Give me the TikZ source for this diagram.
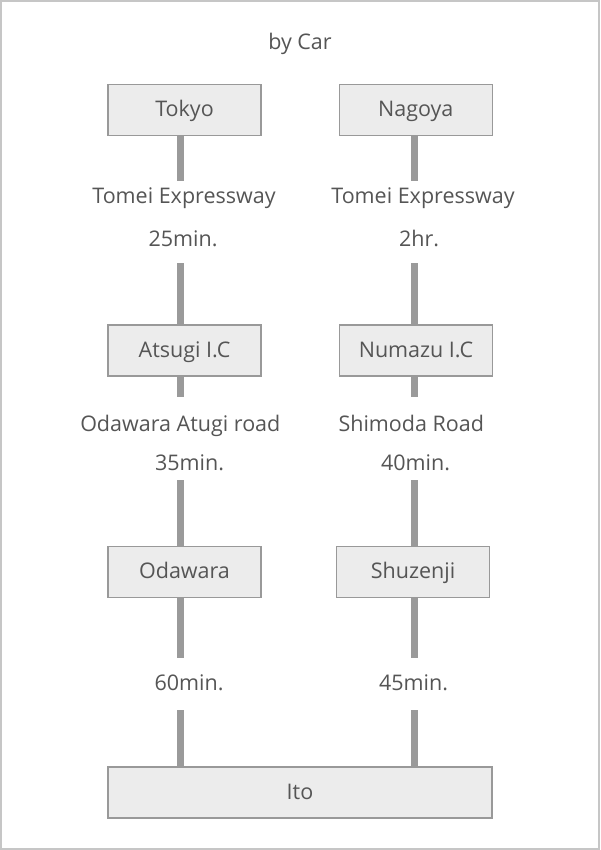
\documentclass[tikz,border=0pt]{standalone}
\usepackage{fontspec}
\setmainfont{Open Sans}
\definecolor{txt}{HTML}{555555}
\definecolor{boxfill}{HTML}{ECECEC}
\definecolor{boxline}{HTML}{999999}
\definecolor{conn}{HTML}{9A9A9A}
\definecolor{frame}{HTML}{C6C6C6}
\begin{document}
\begin{tikzpicture}[x=1pt,y=-1pt,
  font=\fontsize{21.5}{25}\selectfont, text=txt,
  place/.style={draw=boxline, fill=boxfill, line width=1.3pt, inner sep=0pt,
    minimum width=153pt, minimum height=51pt, text height=16pt, text depth=3pt},
  lbl/.style={anchor=base, inner sep=0pt},
  road/.style={draw=conn, line width=6.5pt}]
\useasboundingbox (0,0) rectangle (600,850);
\draw[frame, line width=2.2pt] (1.1,1.1) rectangle (598.9,848.9);

\node[lbl] (title) at (300,49.5) {by Car};

% boxes
\node[place] (tokyo) at (184.5,110) {Tokyo};
\node[place] (nagoya) at (415.75,110) {Nagoya};
\node[place] (atsugi) at (184.5,350.5) {Atsugi I.C};
\node[place] (numazu) at (416,350.5) {Numazu I.C};
\node[place] (odawara) at (184.5,572) {Odawara};
\node[place] (shuzenji) at (413,572) {Shuzenji};
\node[place, minimum width=384pt] (ito) at (300,792.5) {Ito};

% labels
\node[lbl] (l1a) at (184,204) {Tomei Expressway};
\node[lbl] (l1b) at (183,246.5) {25min.};
\node[lbl] (r1a) at (423,204) {Tomei Expressway};
\node[lbl] (r1b) at (419,246.5) {2hr.};
\node[lbl] (l2a) at (180.3,431) {Odawara Atugi road};
\node[lbl] (l2b) at (189.5,470) {35min.};
\node[lbl] (r2a) at (411.3,431) {Shimoda Road};
\node[lbl] (r2b) at (415.5,470) {40min.};
\node[lbl] (l3b) at (189,690.5) {60min.};
\node[lbl] (r3b) at (413.5,690.5) {45min.};

% connector end points
\coordinate (L1) at (180.5,181);
\coordinate (L2) at (180.5,263);
\coordinate (L3) at (180.5,397);
\coordinate (L4) at (180.5,480);
\coordinate (L5) at (180.5,658);
\coordinate (L6) at (180.5,710);
\coordinate (R1) at (414.5,181);
\coordinate (R2) at (414.5,263);
\coordinate (R3) at (414.5,397);
\coordinate (R4) at (414.5,480);
\coordinate (R5) at (414.5,658);
\coordinate (R6) at (414.5,710);

% connectors
\draw[road] (L1 |- tokyo.south) -- (L1);
\draw[road] (L2) -- (L2 |- atsugi.north);
\draw[road] (L3 |- atsugi.south) -- (L3);
\draw[road] (L4) -- (L4 |- odawara.north);
\draw[road] (L5 |- odawara.south) -- (L5);
\draw[road] (L6) -- (L6 |- ito.north);
\draw[road] (R1 |- nagoya.south) -- (R1);
\draw[road] (R2) -- (R2 |- numazu.north);
\draw[road] (R3 |- numazu.south) -- (R3);
\draw[road] (R4) -- (R4 |- shuzenji.north);
\draw[road] (R5 |- shuzenji.south) -- (R5);
\draw[road] (R6) -- (R6 |- ito.north);
\end{tikzpicture}
\end{document}
